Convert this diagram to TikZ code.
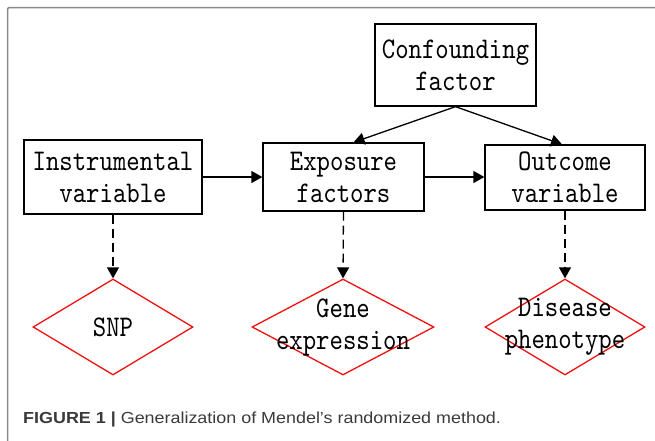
\documentclass[tikz,border=0pt]{standalone}
\usepackage{fontspec}
\setmainfont{Liberation Serif}
\newfontfamily\capfont[FakeStretch=1.12]{Liberation Sans}
\newfontfamily\boxfontfam{lmmono10-regular}[Extension=.otf, FakeStretch=0.85]
\usetikzlibrary{shapes.geometric,arrows.meta}
\definecolor{framegray}{HTML}{8A8A8A}
\definecolor{captext}{HTML}{3A3A3A}
\definecolor{diared}{HTML}{F01010}
\newcommand{\bfont}{\boxfontfam\fontsize{30}{32}\selectfont}
\begin{document}
\begin{tikzpicture}[x=1pt,y=-1pt,
  box/.style={draw=black, line width=1.3pt, rectangle, inner sep=0pt, align=center,
    font=\bfont},
  dia/.style={draw=diared, line width=1.3pt, diamond, inner sep=0pt},
  dtext/.style={align=center, inner sep=0pt, font=\bfont},
  arr/.style={line width=1.3pt, -{Triangle[length=11pt,width=12pt]}},
  darr/.style={arr, dash pattern=on 9pt off 5pt}
]
\useasboundingbox (0,0) rectangle (655,440);
\draw[framegray, line width=1.5pt, rounded corners=2pt] (7.5,460) -- (7.5,7.5) -- (680,7.5);

\node[box, minimum width=161, minimum height=82] (conf) at (455.5,65) {Confounding\\factor};
\node[box, minimum width=178, minimum height=74] (inst) at (113,177) {Instrumental\\variable};
\node[box, minimum width=161, minimum height=68] (expo) at (343.5,177) {Exposure\\factors};
\node[box, minimum width=160, minimum height=65] (outc) at (565,177.5) {Outcome\\variable};

\node[dia, minimum width=160, minimum height=96] (snp) at (113,327) {};
\node[dia, minimum width=182, minimum height=96] (gene) at (343,327) {};
\node[dia, minimum width=160, minimum height=96] (dis) at (565,327) {};
\node[dtext] (snpt) at (snp.center) {SNP};
\node[dtext] (genet) at (gene.center) {Gene\\expression};
\node[dtext] (dist) at (dis.center) {Disease\\phenotype};

\draw[arr] (conf.south) -- ([xshift=10pt]expo.north);
\draw[arr] (conf.south) -- ([xshift=-3pt]outc.north);
\draw[arr] (inst.east) -- (expo.west);
\draw[arr] (expo.east) -- (outc.west |- expo.east);

\draw[darr] (inst.south) -- (snp.north);
\draw[darr] (expo.south) -- (gene.north);
\draw[darr] (outc.south) -- (dis.north);

\node[anchor=base west, inner sep=0pt, text=captext, font=\capfont\fontsize{16}{19}\selectfont] (cap) at (23,423.5)
  {\textbf{FIGURE 1 |} Generalization of Mendel’s randomized method.};
\end{tikzpicture}
\end{document}
